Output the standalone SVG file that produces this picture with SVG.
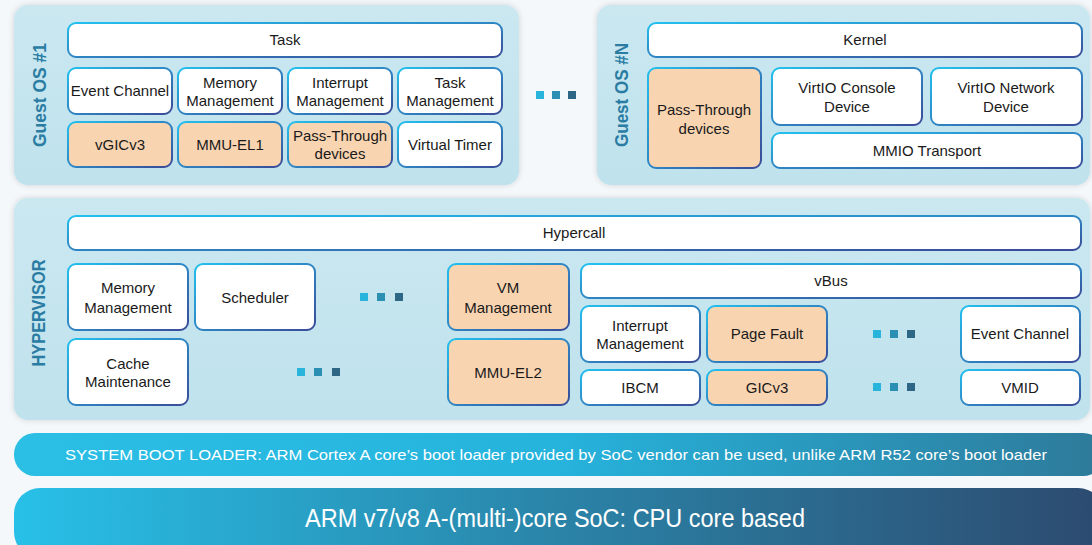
<svg xmlns="http://www.w3.org/2000/svg" width="1092" height="545" viewBox="0 0 1092 545">
<defs>
<linearGradient id="bs" x1="0" y1="0" x2="1" y2="1">
<stop offset="0" stop-color="#22c0ee"/>
<stop offset="1" stop-color="#3a4b98"/>
</linearGradient>
<linearGradient id="pf" x1="0" y1="0" x2="0" y2="1">
<stop offset="0" stop-color="#cbe8f1"/>
<stop offset="1" stop-color="#bfe2ec"/>
</linearGradient>
<linearGradient id="boot" x1="0" y1="0" x2="1" y2="0">
<stop offset="0" stop-color="#2bbfe6"/>
<stop offset="0.5" stop-color="#26b3dc"/>
<stop offset="1" stop-color="#2e7a9a"/>
</linearGradient>
<linearGradient id="arm" x1="0" y1="0" x2="1" y2="0">
<stop offset="0" stop-color="#28c0e8"/>
<stop offset="0.5" stop-color="#2a84a8"/>
<stop offset="1" stop-color="#2d4a6f"/>
</linearGradient>
<filter id="glow" x="-5%" y="-10%" width="110%" height="120%">
<feGaussianBlur in="SourceAlpha" stdDeviation="3"/>
<feComponentTransfer><feFuncA type="linear" slope="0.15"/></feComponentTransfer>
<feMerge><feMergeNode/><feMergeNode in="SourceGraphic"/></feMerge>
</filter>
</defs>
<style>
.panel{fill:url(#pf);filter:url(#glow)}
.b{fill:#ffffff;stroke:url(#bs);stroke-width:2}
.o{fill:#f8d4b1;stroke:url(#bs);stroke-width:2}
.t{font-family:"Liberation Sans",Arial,sans-serif;font-size:15px;fill:#1a1a1a;text-anchor:middle}
.lab{font-family:"Liberation Sans",Arial,sans-serif;font-size:18px;font-weight:bold;fill:#2a7ca3;text-anchor:middle}
.d1{fill:#29b4dc}.d2{fill:#2a8fb2}.d3{fill:#2e6686}
.w{font-family:"Liberation Sans",Arial,sans-serif;fill:#ffffff;text-anchor:middle}
</style>
<rect x="0" y="0" width="1092" height="545" fill="#f4f8fb"/>

<g id="guest1">
<rect class="panel" x="14" y="5" width="505" height="180" rx="14"/>
<text class="lab" transform="translate(46,95) rotate(-90)" textLength="104" lengthAdjust="spacingAndGlyphs">Guest OS #1</text>
</g>
<g id="g1-task"><rect class="b" x="68" y="23" width="434" height="34" rx="8"/><text class="t" x="285" y="45">Task</text></g>
<g id="g1-event"><rect class="b" x="68" y="68" width="104" height="46" rx="8"/><text class="t" x="120" y="96">Event Channel</text></g>
<g id="g1-mem"><rect class="b" x="178" y="68" width="104" height="46" rx="8"/><text class="t" x="230" y="88">Memory</text><text class="t" x="230" y="106">Management</text></g>
<g id="g1-int"><rect class="b" x="288" y="68" width="104" height="46" rx="8"/><text class="t" x="340" y="88">Interrupt</text><text class="t" x="340" y="106">Management</text></g>
<g id="g1-taskm"><rect class="b" x="398" y="68" width="104" height="46" rx="8"/><text class="t" x="450" y="88">Task</text><text class="t" x="450" y="106">Management</text></g>
<g id="g1-vgic"><rect class="o" x="68" y="122" width="104" height="45" rx="8"/><text class="t" x="120" y="150">vGICv3</text></g>
<g id="g1-mmu"><rect class="o" x="178" y="122" width="104" height="45" rx="8"/><text class="t" x="230" y="150">MMU-EL1</text></g>
<g id="g1-pass"><rect class="o" x="288" y="122" width="104" height="45" rx="8"/><text class="t" x="340" y="141">Pass-Through</text><text class="t" x="340" y="159">devices</text></g>
<g id="g1-timer"><rect class="b" x="398" y="122" width="104" height="45" rx="8"/><text class="t" x="450" y="150">Virtual Timer</text></g>

<g id="dots-guests"><rect class="d1" x="536" y="91" width="8" height="8"/><rect class="d2" x="552" y="91" width="8" height="8"/><rect class="d3" x="568" y="91" width="8" height="8"/></g>

<g id="guestN">
<rect class="panel" x="597" y="5" width="493" height="180" rx="14"/>
<text class="lab" transform="translate(628,95) rotate(-90)" textLength="104" lengthAdjust="spacingAndGlyphs">Guest OS #N</text>
</g>
<g id="gN-kernel"><rect class="b" x="648" y="23" width="434" height="34" rx="8"/><text class="t" x="865" y="45">Kernel</text></g>
<g id="gN-pass"><rect class="o" x="648" y="68" width="113" height="100" rx="8"/><text class="t" x="704" y="115">Pass-Through</text><text class="t" x="704" y="134">devices</text></g>
<g id="gN-console"><rect class="b" x="772" y="68" width="150" height="57" rx="8"/><text class="t" x="847" y="93">VirtIO Console</text><text class="t" x="847" y="112">Device</text></g>
<g id="gN-network"><rect class="b" x="931" y="68" width="151" height="57" rx="8"/><text class="t" x="1006" y="93">VirtIO Network</text><text class="t" x="1006" y="112">Device</text></g>
<g id="gN-mmio"><rect class="b" x="772" y="133" width="310" height="35" rx="8"/><text class="t" x="927" y="156">MMIO Transport</text></g>

<g id="hypervisor">
<rect class="panel" x="14" y="198" width="1076" height="222" rx="14"/>
<text class="lab" transform="translate(45,313) rotate(-90)" textLength="107" lengthAdjust="spacingAndGlyphs">HYPERVISOR</text>
</g>
<g id="h-hypercall"><rect class="b" x="68" y="216" width="1013" height="34" rx="8"/><text class="t" x="574" y="238">Hypercall</text></g>
<g id="h-mem"><rect class="b" x="68" y="264" width="120" height="66" rx="8"/><text class="t" x="128" y="293">Memory</text><text class="t" x="128" y="313">Management</text></g>
<g id="h-sched"><rect class="b" x="195" y="264" width="120" height="66" rx="8"/><text class="t" x="255" y="303">Scheduler</text></g>
<g id="dots-h1"><rect class="d1" x="360" y="293" width="8" height="8"/><rect class="d2" x="377" y="293" width="8" height="8"/><rect class="d3" x="395" y="293" width="8" height="8"/></g>
<g id="h-vm"><rect class="o" x="448" y="264" width="121" height="66" rx="8"/><text class="t" x="508" y="293">VM</text><text class="t" x="508" y="313">Management</text></g>
<g id="h-cache"><rect class="b" x="68" y="339" width="120" height="66" rx="8"/><text class="t" x="128" y="369">Cache</text><text class="t" x="128" y="387">Maintenance</text></g>
<g id="dots-h2"><rect class="d1" x="297" y="368" width="8" height="8"/><rect class="d2" x="314" y="368" width="8" height="8"/><rect class="d3" x="332" y="368" width="8" height="8"/></g>
<g id="h-mmu"><rect class="o" x="448" y="339" width="121" height="66" rx="8"/><text class="t" x="508" y="378">MMU-EL2</text></g>
<g id="h-vbus"><rect class="b" x="581" y="264" width="500" height="34" rx="8"/><text class="t" x="831" y="286">vBus</text></g>
<g id="h-int"><rect class="b" x="581" y="306" width="119" height="56" rx="8"/><text class="t" x="640" y="331">Interrupt</text><text class="t" x="640" y="349">Management</text></g>
<g id="h-pf"><rect class="o" x="707" y="306" width="120" height="56" rx="8"/><text class="t" x="767" y="339">Page Fault</text></g>
<g id="dots-h3"><rect class="d1" x="873" y="330" width="8" height="8"/><rect class="d2" x="890" y="330" width="8" height="8"/><rect class="d3" x="907" y="330" width="8" height="8"/></g>
<g id="h-event"><rect class="b" x="961" y="306" width="119" height="56" rx="8"/><text class="t" x="1020" y="339">Event Channel</text></g>
<g id="h-ibcm"><rect class="b" x="581" y="370" width="119" height="35" rx="8"/><text class="t" x="640" y="393">IBCM</text></g>
<g id="h-gic"><rect class="o" x="707" y="370" width="120" height="35" rx="8"/><text class="t" x="767" y="393">GICv3</text></g>
<g id="dots-h4"><rect class="d1" x="873" y="383" width="8" height="8"/><rect class="d2" x="890" y="383" width="8" height="8"/><rect class="d3" x="907" y="383" width="8" height="8"/></g>
<g id="h-vmid"><rect class="b" x="961" y="370" width="119" height="35" rx="8"/><text class="t" x="1020" y="393">VMID</text></g>

<g id="bootloader">
<rect x="14" y="433" width="1090" height="43" rx="21" fill="url(#boot)"/>
<text class="w" x="556" y="460" font-size="15" textLength="982" lengthAdjust="spacingAndGlyphs">SYSTEM BOOT LOADER: ARM Cortex A core’s boot loader provided by SoC vendor can be used, unlike ARM R52 core’s boot loader</text>
</g>
<g id="soc">
<rect x="14" y="488" width="1090" height="70" rx="26" fill="url(#arm)"/>
<text class="w" x="555" y="527" font-size="26" textLength="500" lengthAdjust="spacingAndGlyphs">ARM v7/v8 A-(multi-)core SoC: CPU core based</text>
</g>
<g id="connectors"/>
</svg>
